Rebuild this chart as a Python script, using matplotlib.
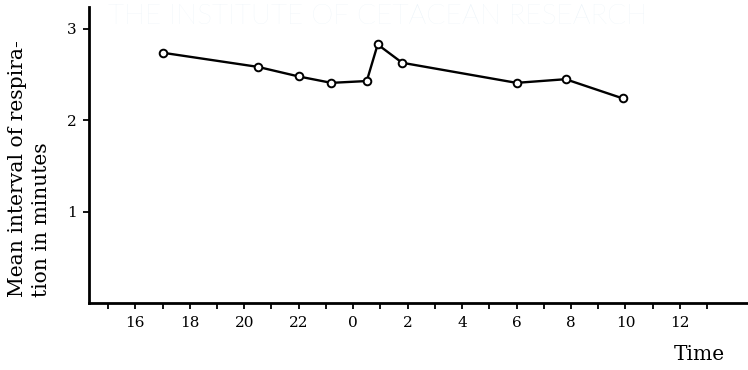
import matplotlib
matplotlib.use("Agg")
import matplotlib.pyplot as plt
from matplotlib.ticker import FixedLocator, FuncFormatter

# Clock time in continuous hours (24 = midnight, 36 = noon next day)
time_hours = [17.0, 20.5, 22.0, 23.2, 24.5, 24.9, 25.8, 30.0, 31.8, 33.9]
mean_interval = [2.74, 2.585, 2.48, 2.41, 2.43, 2.83, 2.63, 2.41, 2.45, 2.24]

major_hours = list(range(16, 37, 2))
minor_hours = list(range(15, 38, 2))
y_ticks = [1, 2, 3]

serif = ["DejaVu Serif"]

fig = plt.figure(figsize=(7.48, 3.70), dpi=100)
fig.patch.set_facecolor("white")
ax = fig.add_axes([0.119, 0.181, 0.881, 0.800])

# faint institutional watermark behind the plot
fig.text(0.505, 0.955, "THE INSTITUTE OF CETACEAN RESEARCH",
         ha="center", va="center", fontsize=20.2, color="#e9f2f8",
         family=["Lato", "DejaVu Sans"], fontweight="light", zorder=0)

ax.plot(time_hours, mean_interval, color="black", lw=1.7,
        marker="o", ms=5.5, mfc="white", mec="black", mew=1.4, zorder=3)

ax.set_xlim(14.3, 38.5)
ax.set_ylim(0, 3.24)
ax.patch.set_alpha(0)

for side in ("top", "right"):
    ax.spines[side].set_visible(False)
for side in ("left", "bottom"):
    ax.spines[side].set_linewidth(2.0)

ax.xaxis.set_major_locator(FixedLocator(major_hours))
ax.xaxis.set_minor_locator(FixedLocator(minor_hours))
ax.xaxis.set_major_formatter(FuncFormatter(lambda v, p: f"{int(round(v)) % 24}"))
ax.yaxis.set_major_locator(FixedLocator(y_ticks))
ax.yaxis.set_major_formatter(FuncFormatter(lambda v, p: f"{int(round(v))}"))

ax.tick_params(axis="x", which="both", direction="out", length=4.5, width=1.3, pad=5)
ax.tick_params(axis="y", which="major", direction="out", length=4, width=1.3, pad=5)
for lbl in ax.get_xticklabels() + ax.get_yticklabels():
    lbl.set_family(serif)
    lbl.set_fontsize(11)

fig.text(0.024, 0.198, "Mean interval of respira-", rotation=90,
         ha="center", va="bottom", fontsize=14.6, family=serif)
fig.text(0.056, 0.198, "tion in minutes", rotation=90,
         ha="center", va="bottom", fontsize=14.6, family=serif)

fig.text(0.935, 0.042, "Time", ha="center", va="center",
         fontsize=14.5, family=serif)

fig.savefig("out.png", dpi=100)
